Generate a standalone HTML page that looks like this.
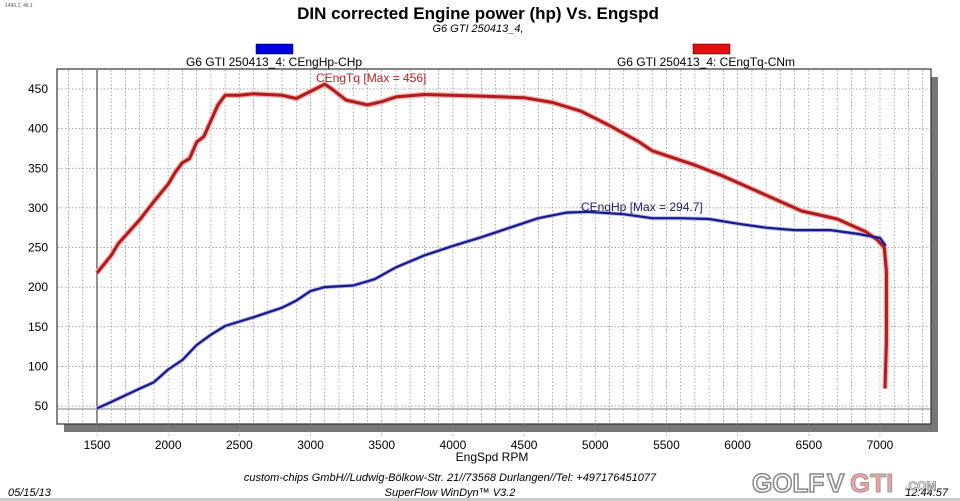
<!DOCTYPE html>
<html><head><meta charset="utf-8"><style>
html,body{margin:0;padding:0;background:#fff;width:960px;height:501px;overflow:hidden}
svg{display:block}
text{font-family:"Liberation Sans",Arial,sans-serif}
</style></head><body>
<svg id="s" width="960" height="501" xmlns="http://www.w3.org/2000/svg">
<rect x="0" y="0" width="960" height="501" fill="#fff"/>
<text x="5" y="7" font-size="5" fill="#555">1496.1, 46.1</text>
<text x="478" y="19" font-size="17" font-weight="bold" text-anchor="middle" fill="#000">DIN corrected Engine power (hp) Vs. Engspd</text>
<text x="478" y="32" font-size="11" font-style="italic" text-anchor="middle" fill="#000">G6 GTI 250413_4,</text>
<rect x="256" y="44" width="37" height="10" fill="#0000e0" stroke="#000" stroke-width="0.5"/>
<text x="274" y="66" font-size="12" text-anchor="middle" fill="#000">G6 GTI 250413_4: CEngHp-CHp</text>
<rect x="693" y="44" width="37" height="10" fill="#e01010" stroke="#000" stroke-width="0.5"/>
<text x="706" y="66" font-size="12" text-anchor="middle" fill="#000">G6 GTI 250413_4: CEngTq-CNm</text>
<rect x="64" y="424" width="874" height="8" fill="#777"/>
<rect x="931" y="77" width="7" height="355" fill="#777"/>
<rect x="57" y="69" width="874" height="355" fill="#fff" stroke="#333" stroke-width="1.2"/>
<g id="grid"></g>
<g id="lbl"></g>
<text x="492" y="461" font-size="12" text-anchor="middle" fill="#000">EngSpd RPM</text>
<text x="450" y="481" font-size="11" font-style="italic" text-anchor="middle" fill="#000">custom-chips GmbH//Ludwig-Bölkow-Str. 21//73568 Durlangen//Tel: +497176451077</text>
<text x="450" y="496" font-size="11" font-style="italic" text-anchor="middle" fill="#000">SuperFlow WinDyn™ V3.2</text>
<text x="8" y="496" font-size="11" font-style="italic" fill="#000">05/15/13</text>
<text x="948" y="496" font-size="11" font-style="italic" text-anchor="end" fill="#000">12:44:57</text>
<text x="752" y="492" font-size="26" font-weight="bold" fill="#fff" stroke="#888" stroke-width="1.5">GOLF</text>
<text x="827" y="492" font-size="26" font-weight="bold" fill="#fff" stroke="#888" stroke-width="1.5">V</text>
<text x="850" y="492" font-size="26" font-weight="bold" fill="#f4a0a0" stroke="#999" stroke-width="1">GTI</text>
<text x="905" y="490" font-size="12" font-weight="bold" fill="#fff" stroke="#888" stroke-width="0.8">.COM</text>
<rect x="0" y="498" width="960" height="3" fill="#ccc"/>
<g id="curves"></g>
<text x="316" y="82" font-size="12" fill="#b22">CEngTq [Max = 456]</text>
<text x="581" y="211" font-size="12" fill="#226">CEngHp [Max = 294.7]</text>
</svg>
<script>
var NS="http://www.w3.org/2000/svg";
function X(r){return 97+(r-1500)*0.14236;}
function Y(v){return 406-(v-50)*0.7925;}
function el(p,t,a){var e=document.createElementNS(NS,t);for(var k in a)e.setAttribute(k,a[k]);p.appendChild(e);return e;}
var g=document.getElementById("grid"),l=document.getElementById("lbl");
for(var r=1300;r<=7300;r+=100){var x=X(r);if(x<58||x>930)continue;
 el(g,"line",{x1:x,y1:70,x2:x,y2:423,stroke:"#888","stroke-width":0.7,"stroke-dasharray":"1.5,2"});}
for(var v=50;v<=450;v+=50){var y=Y(v);
 el(g,"line",{x1:58,y1:y,x2:930,y2:y,stroke:"#888","stroke-width":0.7,"stroke-dasharray":"1.5,2"});
 var t=el(l,"text",{x:48,y:y+4,"font-size":12,"text-anchor":"end",fill:"#000"});t.textContent=v;}
for(var r=1500;r<=7000;r+=500){var t=el(l,"text",{x:X(r),y:449,"font-size":12,"text-anchor":"middle",fill:"#000"});t.textContent=r;
 el(g,"line",{x1:X(r),y1:424,x2:X(r),y2:437,stroke:"#888","stroke-width":0.7,"stroke-dasharray":"1.5,2"});}
el(g,"line",{x1:97,y1:70,x2:97,y2:423,stroke:"#222","stroke-width":1});
el(g,"line",{x1:58,y1:409,x2:930,y2:409,stroke:"#999","stroke-width":1.2});
var tq=[[1500,218],[1600,240],[1650,255],[1700,265],[1800,285],[1900,308],[2000,330],[2050,345],[2100,357],[2150,362],[2200,383],[2250,390],[2300,410],[2350,430],[2400,442],[2500,442],[2600,444],[2800,442],[2900,438],[3000,447],[3100,456],[3150,450],[3250,436],[3400,430],[3500,434],[3600,440],[3800,443],[4200,441],[4500,439],[4700,433],[4900,422],[5100,404],[5300,384],[5400,372],[5500,366],[5700,354],[5900,340],[6100,324],[6300,308],[6450,296],[6700,286],[6900,270],[6980,260],[7030,250],[7045,220],[7045,130],[7035,72]];
var hp=[[1500,47],[1600,55],[1800,72],[1900,80],[2000,96],[2100,108],[2200,127],[2300,140],[2400,151],[2600,162],[2800,174],[2900,183],[3000,195],[3100,200],[3300,202],[3450,210],[3600,225],[3800,240],[4000,252],[4200,263],[4400,275],[4600,287],[4800,294],[4950,295],[5200,292],[5400,287],[5600,287],[5800,286],[6000,280],[6200,275],[6400,272],[6650,272],[6850,267],[7000,262],[7040,252]];
function pts(a){return a.map(function(p){return X(p[0]).toFixed(1)+","+Y(p[1]).toFixed(1)}).join(" ");}
var c=document.getElementById("curves");
el(c,"polyline",{points:pts(tq),fill:"none",stroke:"#f4b0b0","stroke-width":5.5,"stroke-linejoin":"round"});
el(c,"polyline",{points:pts(hp),fill:"none",stroke:"#b0b0e8","stroke-width":4,"stroke-linejoin":"round"});
el(c,"polyline",{points:pts(tq),fill:"none",stroke:"#b01c1c","stroke-width":3,"stroke-linejoin":"round"});
el(c,"polyline",{points:pts(hp),fill:"none",stroke:"#1a1a8a","stroke-width":2.2,"stroke-linejoin":"round"});
</script>
</body></html>
